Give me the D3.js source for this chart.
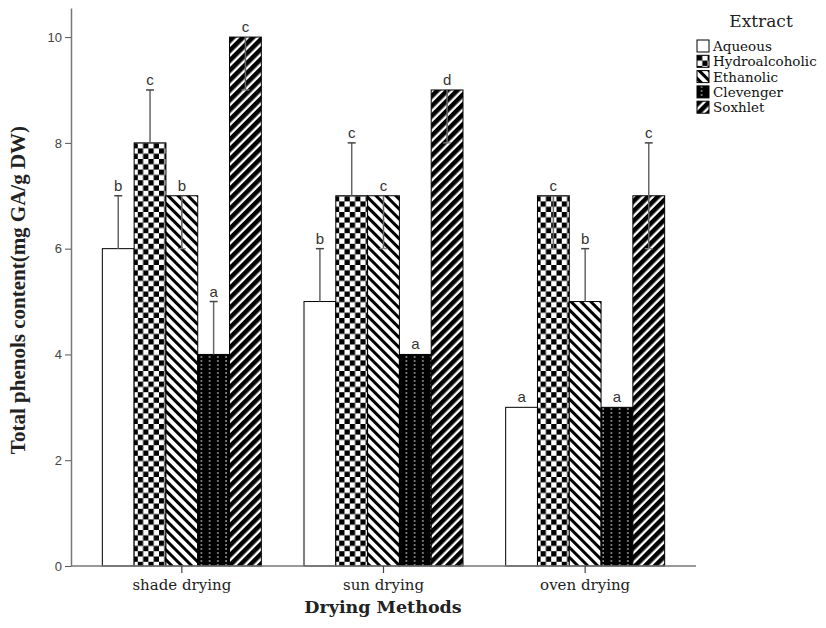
<!DOCTYPE html>
<html>
<head>
<meta charset="utf-8">
<script src="https://cdn.jsdelivr.net/npm/d3@7"></script>
<style>
  body { margin: 0; background: #fff; }
  svg { display: block; }
</style>
</head>
<body>
<svg id="chart" width="826" height="628"></svg>
<script>
// Drying methods on the x axis, extracts as grouped bars
const categories = ["shade drying", "sun drying", "oven drying"];
const extracts = ["Aqueous", "Hydroalcoholic", "Ethanolic", "Clevenger", "Soxhlet"];

// Mean total phenols (mg GA/g DW) per extract, in category order
const aqueous        = [6, 5, 3];
const hydroalcoholic = [8, 7, 7];
const ethanolic      = [7, 7, 5];
const clevenger      = [4, 4, 3];
const soxhlet        = [10, 9, 7];

// Error bar ends (low, high) per extract, in category order
const aqueousErr        = [[6, 7], [5, 6], [3, 3]];
const hydroalcoholicErr = [[8, 9], [7, 8], [6, 7]];
const ethanolicErr      = [[6, 7], [6, 7], [5, 6]];
const clevengerErr      = [[4, 5], [4, 4], [3, 3]];
const soxhletErr        = [[9, 10], [8, 9], [6, 8]];

// Significance letters per extract
const aqueousSig        = ["b", "b", "a"];
const hydroalcoholicSig = ["c", "c", "c"];
const ethanolicSig      = ["b", "c", "b"];
const clevengerSig      = ["a", "a", "a"];
const soxhletSig        = ["c", "d", "c"];

const yTicks = [0, 2, 4, 6, 8, 10];

const seriesValues = [aqueous, hydroalcoholic, ethanolic, clevenger, soxhlet];
const seriesErr = [aqueousErr, hydroalcoholicErr, ethanolicErr, clevengerErr, soxhletErr];
const seriesSig = [aqueousSig, hydroalcoholicSig, ethanolicSig, clevengerSig, soxhletSig];

const rows = [];
categories.forEach((c, ci) => {
  extracts.forEach((e, ei) => {
    rows.push({
      category: c, extract: e,
      value: seriesValues[ei][ci],
      lo: seriesErr[ei][ci][0], hi: seriesErr[ei][ci][1],
      sig: seriesSig[ei][ci]
    });
  });
});

const svg = d3.select("#chart");

// ---- fill patterns ----
const defs = svg.append("defs");
const fills = {
  "Aqueous": "#fff",
  "Hydroalcoholic": "url(#pat-checker)",
  "Ethanolic": "url(#pat-back)",
  "Clevenger": "url(#pat-dots)",
  "Soxhlet": "url(#pat-fwd)"
};

const cell = 5.3;
const chk = defs.append("pattern").attr("id", "pat-checker")
  .attr("patternUnits", "userSpaceOnUse")
  .attr("width", cell * 2).attr("height", cell * 2);
chk.append("rect").attr("width", cell * 2).attr("height", cell * 2).attr("fill", "#fff");
chk.append("rect").attr("width", cell).attr("height", cell).attr("fill", "#000");
chk.append("rect").attr("x", cell).attr("y", cell).attr("width", cell).attr("height", cell).attr("fill", "#000");

const back = defs.append("pattern").attr("id", "pat-back")
  .attr("patternUnits", "userSpaceOnUse")
  .attr("width", 7).attr("height", 7)
  .attr("patternTransform", "rotate(-45)");
back.append("rect").attr("width", 7).attr("height", 7).attr("fill", "#fff");
back.append("rect").attr("width", 3).attr("height", 7).attr("fill", "#000");

const fwd = defs.append("pattern").attr("id", "pat-fwd")
  .attr("patternUnits", "userSpaceOnUse")
  .attr("width", 7).attr("height", 7)
  .attr("patternTransform", "rotate(45)");
fwd.append("rect").attr("width", 7).attr("height", 7).attr("fill", "#000");
fwd.append("rect").attr("x", 4.6).attr("width", 2.4).attr("height", 7).attr("fill", "#fff");

const dots = defs.append("pattern").attr("id", "pat-dots")
  .attr("patternUnits", "userSpaceOnUse")
  .attr("width", 8.2).attr("height", 4);
dots.append("rect").attr("width", 8.2).attr("height", 4).attr("fill", "#000");
dots.append("rect").attr("x", 4).attr("y", 0).attr("width", 1.3).attr("height", 2).attr("fill", "#a8a8a8");

// ---- scales ----
const y = d3.scaleLinear().domain([0, 10.55]).range([566, 8]);
const x0 = d3.scaleBand().domain(categories).range([81, 686])
  .paddingInner(0.2116).paddingOuter(0.1058);
const x1 = d3.scaleBand().domain(extracts).range([0, x0.bandwidth()]);

// ---- bars ----
const bars = svg.append("g");
bars.selectAll("rect").data(rows).join("rect")
  .attr("x", d => x0(d.category) + x1(d.extract))
  .attr("y", d => y(d.value))
  .attr("width", x1.bandwidth())
  .attr("height", d => y(0) - y(d.value))
  .attr("fill", d => fills[d.extract])
  .attr("stroke", "#000")
  .attr("stroke-width", 1);

// ---- error bars ----
const eg = svg.append("g");
rows.filter(d => d.hi > d.lo).forEach(d => {
  const cx = x0(d.category) + x1(d.extract) + x1.bandwidth() / 2;
  eg.append("line")
    .attr("x1", cx).attr("x2", cx)
    .attr("y1", y(d.lo)).attr("y2", y(d.hi))
    .attr("stroke", "#666").attr("stroke-width", 1.5);
  [d.lo, d.hi].forEach(v => {
    if (v > d.value) {
      eg.append("line")
        .attr("x1", cx - 4).attr("x2", cx + 4)
        .attr("y1", y(v)).attr("y2", y(v))
        .attr("stroke", "#444").attr("stroke-width", 1.5);
    } else if (v < d.value) {
      eg.append("line")
        .attr("x1", cx - 4).attr("x2", cx + 4)
        .attr("y1", y(v)).attr("y2", y(v))
        .attr("stroke", "#888").attr("stroke-width", 1.2);
    }
  });
});

// ---- significance letters ----
svg.append("g").selectAll("text").data(rows).join("text")
  .attr("x", d => x0(d.category) + x1(d.extract) + x1.bandwidth() / 2)
  .attr("y", d => y(Math.max(d.value, d.hi)) - 5)
  .attr("text-anchor", "middle")
  .attr("font-family", "Liberation Sans, Arial, sans-serif")
  .attr("font-size", 15)
  .attr("fill", "#333")
  .text(d => d.sig);

// ---- axes ----
const yAxis = svg.append("g")
  .attr("transform", "translate(71,0)")
  .call(d3.axisLeft(y).tickValues(yTicks).tickSize(6).tickSizeOuter(0).tickPadding(3));
yAxis.select(".domain").attr("stroke", "#777").attr("stroke-width", 1.5);
yAxis.selectAll(".tick line").attr("stroke", "#555");
yAxis.selectAll(".tick text")
  .attr("font-family", "Liberation Sans, Arial, sans-serif")
  .attr("font-size", 13).attr("fill", "#444");

const xAxisG = svg.append("g").attr("transform", `translate(0,${y(0)})`);
xAxisG.append("line")
  .attr("x1", 71).attr("x2", 696).attr("y1", 0).attr("y2", 0)
  .attr("stroke", "#777").attr("stroke-width", 1.5);
const xAxis = d3.axisBottom(x0).tickSize(7).tickSizeOuter(0).tickPadding(6);
const xa = svg.append("g").attr("transform", `translate(0,${y(0)})`).call(xAxis);
xa.select(".domain").remove();
xa.selectAll(".tick line").attr("stroke", "#444").attr("stroke-width", 1.2);
xa.selectAll(".tick text")
  .attr("font-family", "DejaVu Serif, serif")
  .attr("font-size", 15).attr("fill", "#222");

// ---- axis titles ----
svg.append("text")
  .attr("x", 383).attr("y", 613)
  .attr("text-anchor", "middle")
  .attr("font-family", "DejaVu Serif, serif")
  .attr("font-weight", "bold")
  .attr("font-size", 17.5)
  .attr("fill", "#222")
  .text("Drying Methods");

svg.append("text")
  .attr("transform", "translate(25,290) rotate(-90)")
  .attr("text-anchor", "middle")
  .attr("font-family", "Liberation Serif, Times New Roman, serif")
  .attr("font-weight", "bold")
  .attr("font-size", 21)
  .attr("fill", "#222")
  .text("Total phenols content(mg GA/g DW)");

// ---- legend ----
const legend = svg.append("g").attr("transform", "translate(697,0)");
legend.append("text")
  .attr("x", 64).attr("y", 27)
  .attr("text-anchor", "middle")
  .attr("font-family", "DejaVu Serif, serif")
  .attr("font-size", 17).attr("fill", "#222")
  .text("Extract");
const li = legend.selectAll("g.item").data(extracts).join("g")
  .attr("class", "item")
  .attr("transform", (d, i) => `translate(0,${40 + i * 15.3})`);
li.append("rect")
  .attr("width", 12).attr("height", 12)
  .attr("fill", d => fills[d])
  .attr("stroke", "#000").attr("stroke-width", 1);
li.append("text")
  .attr("x", 16).attr("y", 11)
  .attr("font-family", "DejaVu Serif, serif")
  .attr("font-size", 13.5).attr("fill", "#111")
  .text(d => d);
</script>
</body>
</html>
